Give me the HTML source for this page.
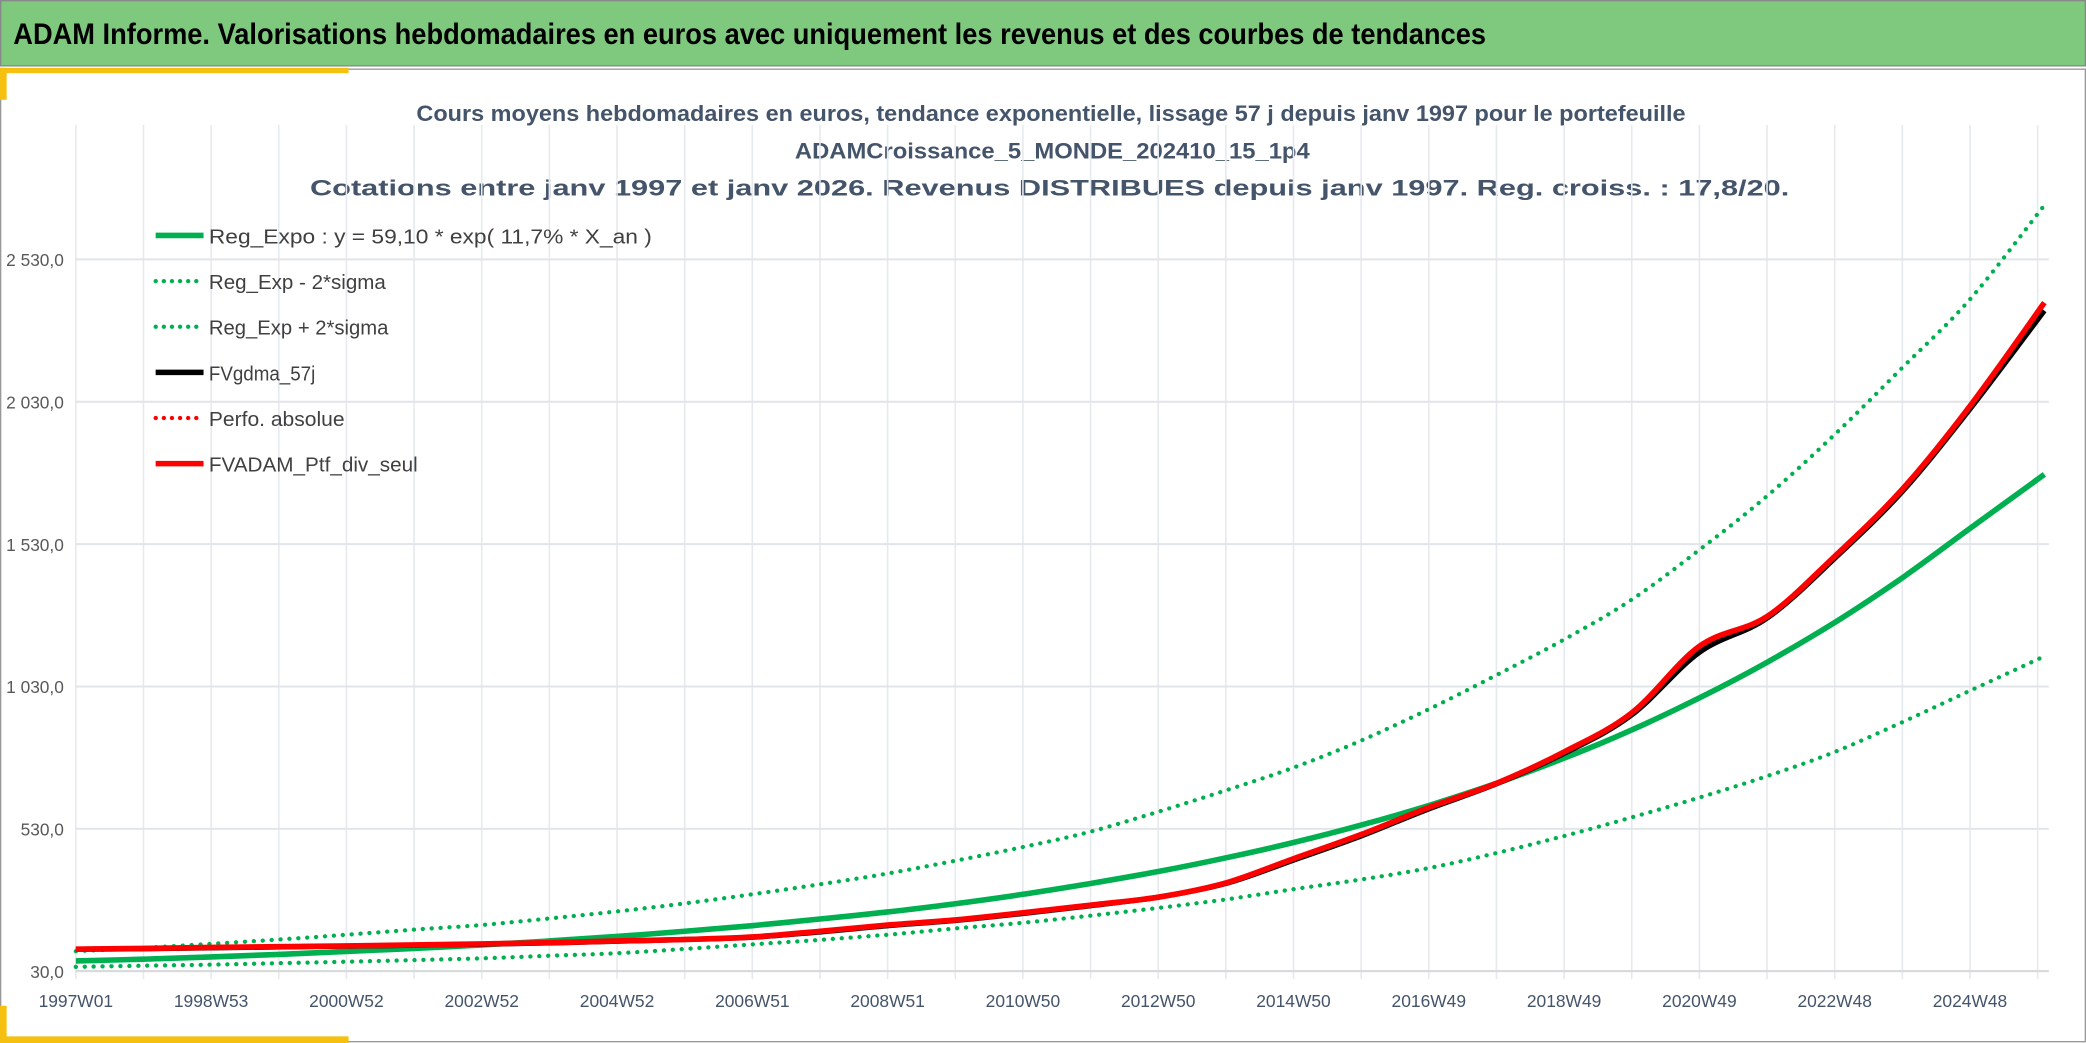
<!DOCTYPE html>
<html><head><meta charset="utf-8">
<style>
html,body{margin:0;padding:0;background:#fff;}
svg{display:block;}
text{font-family:"Liberation Sans Narrow","Liberation Sans",sans-serif;}
</style></head>
<body>
<svg id="chart" width="2086" height="1043" viewBox="0 0 1568 784" preserveAspectRatio="none" xmlns="http://www.w3.org/2000/svg">
  <rect x="0" y="0" width="1568" height="784" fill="#fff"/>
  <rect x="0.5" y="0.5" width="1567" height="49" fill="#7fc97f" stroke="#888" stroke-width="1"/>
  <text x="10" y="33" font-size="22" font-weight="bold" fill="#000" textLength="1107" lengthAdjust="spacingAndGlyphs">ADAM Informe. Valorisations hebdomadaires en euros avec uniquement les revenus et des courbes de tendances</text>
  <rect x="0.5" y="52" width="1567" height="731" fill="none" stroke="#999" stroke-width="1"/>
  <rect x="0" y="51" width="262" height="4" fill="#f5c010"/>
  <rect x="0" y="51" width="5" height="24" fill="#f5c010"/>
  <rect x="0" y="779" width="262" height="5" fill="#f5c010"/>
  <rect x="0" y="756" width="5" height="28" fill="#f5c010"/>
  <g font-weight="bold" fill="#44546a" font-size="17" text-anchor="middle">
    <text x="790" y="91" textLength="954" lengthAdjust="spacingAndGlyphs">Cours moyens hebdomadaires en euros, tendance exponentielle, lissage 57 j depuis janv 1997 pour le portefeuille</text>
    <text x="791" y="119" textLength="387" lengthAdjust="spacingAndGlyphs">ADAMCroissance_5_MONDE_202410_15_1p4</text>
    <text x="789" y="147" textLength="1112" lengthAdjust="spacingAndGlyphs">Cotations entre janv 1997 et janv 2026. Revenus DISTRIBUES depuis janv 1997. Reg. croiss. : 17,8/20.</text>
  </g>
  <g id="grid"></g>
  <g id="axes"></g>
  <g id="series"></g>
  <g id="legend"></g>
</svg>
<script>
// ---- data (years since 1997W01) ----
const tYears = [0,1,2,3,4,5,6,7,8,9,10,11,12,13,14,15,16,17,18,19,20,21,22,23,24,25,26,27,28,29.1];
const regExpo = [66,72,80,89,99,110,122,136,152,170,190,213,238,267,300,338,380,428,482,543,612,690,778,877,990,1115,1255,1412,1585,1775];
const regMinus = [45,49,53,58,63,69,75,84,93,108,124,140,158,180,200,225,252,282,318,352,392,445,505,570,640,715,800,905,1015,1136];
const regPlus = [100,112,126,141,158,176,192,215,240,268,300,335,373,418,466,520,590,665,745,840,950,1070,1195,1335,1510,1699,1915,2150,2390,2720];
const fvGdma = [107,109,112,115,118,121,125,129,135,141,149,168,190,208,233,260,290,338,420,505,600,688,795,930,1150,1270,1480,1715,2005,2350];
const fvAdam = [107,110,113,116,119,122,126,130,136,141,150,170,192,210,235,262,290,340,425,510,605,690,800,937,1171,1276,1487,1723,2015,2378];
const yTicks = [30,530,1030,1530,2030,2530];
const yTickLabels = ["30,0","530,0","1 030,0","1 530,0","2 030,0","2 530,0"];
const xTickYears = [0,2,4,6,8,10,12,14,16,18,20,22,24,26,28];
const xTickLabels = ["1997W01","1998W53","2000W52","2002W52","2004W52","2006W51","2008W51","2010W50","2012W50","2014W50","2016W49","2018W49","2020W49","2022W48","2024W48"];

const NS="http://www.w3.org/2000/svg";
const X0=57, PX_YEAR=50.85, Y0=730, PX_UNIT=107/500;
function xs(t){return X0+t*PX_YEAR;}
function ys(v){return Y0-(v-30)*PX_UNIT;}
function mk(tag,attrs,parent){const e=document.createElementNS(NS,tag);for(const k in attrs)e.setAttribute(k,attrs[k]);parent.appendChild(e);return e;}

const grid=document.getElementById('grid'), axes=document.getElementById('axes'), series=document.getElementById('series'), legend=document.getElementById('legend');
for(let i=0;i<=29;i++){
  const l=mk('line',{x1:xs(i),x2:xs(i),y1:94,y2:736,stroke:'#e6e9ed','stroke-width':1.2},grid);
  
  
}
yTicks.forEach((v,i)=>{
  const l=mk('line',{x1:X0,x2:1540,y1:ys(v),y2:ys(v),stroke:'#e1e4e8','stroke-width':1.5},grid);
  
  
  const t=mk('text',{x:48,y:ys(v)+5,'font-size':13,fill:'#595959','text-anchor':'end'},axes);
  
  
  t.textContent=yTickLabels[i];
});
xTickYears.forEach((yr,i)=>{
  const t=mk('text',{x:xs(yr),y:757,'font-size':13.5,fill:'#44546a','text-anchor':'middle',textLength:56,lengthAdjust:'spacingAndGlyphs'},axes);
  
  
  t.textContent=xTickLabels[i];
});

function pathD(vals){
  const p=vals.map((v,i)=>[xs(tYears[i]),ys(v)]);
  let d='M'+p[0][0].toFixed(1)+','+p[0][1].toFixed(1);
  for(let i=0;i<p.length-1;i++){
    const a=p[Math.max(0,i-1)],b=p[i],c=p[i+1],e=p[Math.min(p.length-1,i+2)];
    const c1=[b[0]+(c[0]-a[0])/6,b[1]+(c[1]-a[1])/6],c2=[c[0]-(e[0]-b[0])/6,c[1]-(e[1]-b[1])/6];
    d+=' C'+c1.map(n=>n.toFixed(1))+' '+c2.map(n=>n.toFixed(1))+' '+c.map(n=>n.toFixed(1));
  }
  return d;
}
const sMinus=mk('path',{d:pathD(regMinus),fill:'none',stroke:'#00b050','stroke-width':3.2,'stroke-dasharray':'0.1 6.6','stroke-linecap':'round'},series);


const sPlus=mk('path',{d:pathD(regPlus),fill:'none',stroke:'#00b050','stroke-width':3.2,'stroke-dasharray':'0.1 6.6','stroke-linecap':'round'},series);


const sReg=mk('path',{d:pathD(regExpo),fill:'none',stroke:'#00b050','stroke-width':4.2},series);


const sG=mk('path',{d:pathD(fvGdma),fill:'none',stroke:'#000','stroke-width':4},series);


const sA=mk('path',{d:pathD(fvAdam),fill:'none',stroke:'#ff0000','stroke-width':4.2},series);


mk('line',{x1:X0,x2:1540,y1:Y0,y2:Y0,stroke:'#d9d9d9','stroke-width':1.5},axes);

const legItems=[
 ['Reg_Expo : y = 59,10 * exp( 11,7% *  X_an )','#00b050',false,333],
 ['Reg_Exp - 2*sigma','#00b050',true,133],
 ['Reg_Exp + 2*sigma','#00b050',true,135],
 ['FVgdma_57j','#000',false,80],
 ['Perfo. absolue','#ff0000',true,102],
 ['FVADAM_Ptf_div_seul','#ff0000',false,157]
];
legItems.forEach((it,i)=>{
  const y=177+i*34.3;
  const g=mk('g',{},legend);
  
  
  const attrs={x1:117,x2:153,y1:y,y2:y,stroke:it[1],'stroke-width':it[2]?3.2:4.2};
  if(it[2]){attrs['stroke-dasharray']='0.1 6';attrs['stroke-linecap']='round';}
  mk('line',attrs,g);
  const t=mk('text',{x:157,y:y+6,'font-size':15.5,fill:'#404040',textLength:it[3],lengthAdjust:'spacingAndGlyphs'},g);
  t.textContent=it[0];
});
</script>
</body></html>
